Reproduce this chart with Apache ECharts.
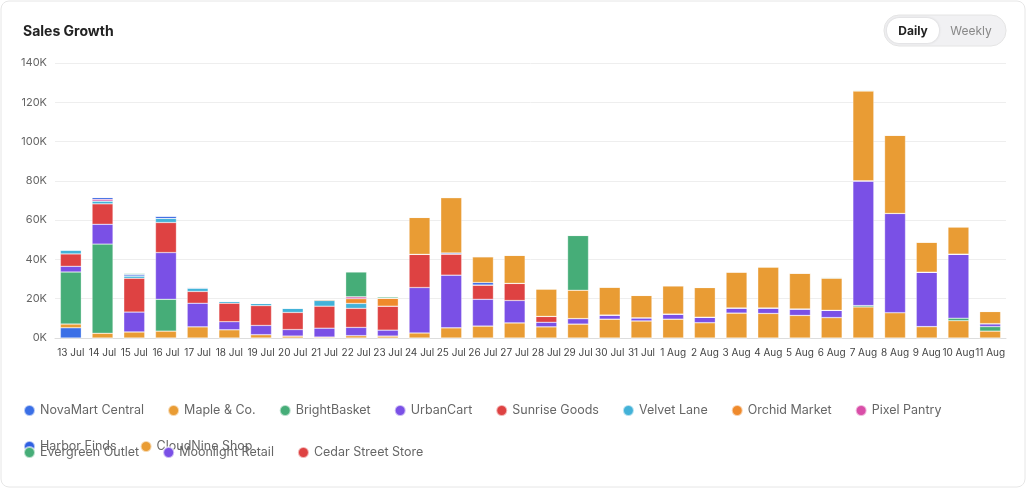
<!DOCTYPE html>
<html>
<head>
<meta charset="utf-8">
<script src="https://cdn.jsdelivr.net/npm/echarts@6/dist/echarts.min.js"></script>
<style>
  html, body { margin: 0; padding: 0; background: #fff; }
  #main { width: 1030px; height: 489px; }
</style>
</head>
<body>
<div id="main"></div>
<script>
// values in thousands
var days = ['13 Jul','14 Jul','15 Jul','16 Jul','17 Jul','18 Jul','19 Jul','20 Jul','21 Jul','22 Jul','23 Jul',
    '24 Jul','25 Jul','26 Jul','27 Jul','28 Jul','29 Jul','30 Jul','31 Jul',
    '1 Aug','2 Aug','3 Aug','4 Aug','5 Aug','6 Aug','7 Aug','8 Aug','9 Aug','10 Aug','11 Aug'];
var yTicks = [0, 20, 40, 60, 80, 100, 120, 140];

var novaMart   = [5.2,0,0,0,0,0,0,0,0,0,0, 0,0,0,0,0,0,0,0, 0,0,0,0,0,0,0,0,0,0,0];
var maple      = [1.9,2.4,3.1,3.5,5.7,4.2,1.7,1.0,0.5,1.2,1.0, 2.6,5.2,6.1,7.7,5.7,7.1,9.6,8.7, 9.6,7.8,12.7,12.5,11.5,10.4,15.8,12.9,5.8,8.8,3.5];
var bright     = [26.5,45.4,0,16.2,0,0,0,0,0,0,0, 0,0,0,0,0,0,0,0, 0,0,0,0,0,0,0.7,0,0,1.3,2.3];
var urban      = [2.9,10.1,10.1,23.8,12,4.1,4.7,3.3,4.5,4.2,3, 23.1,26.8,13.6,11.4,2.3,2.8,2.1,1.6, 2.6,2.8,2.6,2.8,3.3,3.7,63.5,50.5,27.7,32.6,1.5];
var sunrise    = [6.3,10.4,17.2,15.3,6,9.4,10.1,8.7,11.2,9.7,12.2, 16.9,10.8,7.3,8.7,3,0,0,0, 0,0,0,0,0,0,0,0,0,0,0];
var velvet     = [2.1,1.4,1.2,2.1,1.7,1.1,1.2,2.3,2.9,2.5,0, 0,0,0,0,0,0,0,0, 0,0,0,0,0,0,0,0,0,0,0];
var orchid     = [0,0,0,0,0,0,0,0,0.6,2.4,4.1, 0,0,0,0,0,0,0,0, 0,0,0,0,0,0,0,0,0,0,0];
var pixel      = [0,0.9,0,0,0.5,0,0,0,0,1.0,0, 0,0,0,0,0,0,0,0, 0,0,0,0,0,0,0,0,0,0,0];
var harbor     = [0,1.0,0.8,1.2,0,0,0,0,0,0,0, 0,0.5,1.2,0,0,0,0,0, 0,0,0,0,0,0,0,0,0,0,0];
var cloudNine  = [0,0,0,0,0,0,0,0,0,0,0, 18.8,28.2,13.2,14.3,14,14.4,14.2,11.4, 14.4,15.1,18.3,20.9,18.2,16.3,45.7,39.8,15.3,13.9,6.2];
var evergreen  = [0,0,0.6,0,0,0,0,0,0,12.7,0.7, 0,0,0,0,0,27.9,0,0, 0,0,0,0,0,0.4,0.4,0,0,0,0];
var moonlight  = [0,0,0,0,0,0,0,0,0,0,0, 0,0,0,0,0,0,0,0, 0,0,0,0,0,0,0,0,0,0,0];
var cedar      = [0,0,0,0,0,0,0,0,0,0,0, 0,0,0,0,0,0,0,0, 0,0,0,0,0,0,0,0,0,0,0];

var names = ['NovaMart Central','Maple & Co.','BrightBasket','UrbanCart','Sunrise Goods','Velvet Lane',
    'Orchid Market','Pixel Pantry','Harbor Finds','CloudNine Shop','Evergreen Outlet','Moonlight Retail','Cedar Street Store'];
var values = [novaMart, maple, bright, urban, sunrise, velvet, orchid, pixel, harbor, cloudNine, evergreen, moonlight, cedar];
var colors = ['#3a6fe6','#e99c34','#46ad78','#7a50e6','#de4242','#43b2d8','#ef8a2c','#d94ea8','#2f60e2','#e99c34','#46ad78','#7a50e6','#de4242'];

var series = names.map(function (n, i) {
    return {
        name: n, type: 'bar', stack: 'total', data: values[i],
        barCategoryGap: '34%',
        itemStyle: { color: colors[i], borderColor: 'rgba(255,255,255,0.6)', borderWidth: 0.5 }
    };
});

var legendBase = {
    left: 18, icon: 'circle', itemWidth: 11, itemHeight: 11, itemGap: 23,
    textStyle: { color: '#666', fontSize: 12.5, fontFamily: 'Inter' }
};

var myChart = echarts.init(document.getElementById('main'));
myChart.setOption({
    animation: false,
    textStyle: { fontFamily: 'Inter' },
    color: colors,
    title: { text: 'Sales Growth', left: 18, top: 20, textStyle: { fontSize: 14, fontWeight: 'bold', color: '#222' } },
    legend: [
        Object.assign({ top: 399, data: names.slice(0, 10) }, legendBase),
        Object.assign({ top: 441, data: names.slice(10) }, legendBase)
    ],
    grid: { left: 55, right: 24, top: 63, bottom: 151 },
    xAxis: {
        type: 'category', data: days,
        axisTick: { show: false },
        axisLine: { lineStyle: { color: '#ddd' } },
        axisLabel: { color: '#444', fontSize: 10, interval: 0, margin: 10 }
    },
    yAxis: {
        type: 'value', min: 0, max: yTicks[yTicks.length - 1], interval: 20,
        axisLabel: { color: '#666', fontSize: 11, formatter: function (v) { return v + 'K'; } },
        splitLine: { lineStyle: { color: '#eee' } }
    },
    graphic: [
        { type: 'rect', shape: { x: 1, y: 1, width: 1024, height: 486, r: 8 }, style: { fill: 'none', stroke: '#e6e6e6' } },
        { type: 'rect', shape: { x: 884, y: 15, width: 122, height: 31, r: 15 }, style: { fill: '#f1f1f3', stroke: '#e4e4e4' } },
        { type: 'rect', shape: { x: 887, y: 18, width: 52, height: 25, r: 12 }, style: { fill: '#fff', shadowBlur: 3, shadowColor: 'rgba(0,0,0,0.15)' } },
        { type: 'text', x: 913, y: 31, style: { text: 'Daily', fill: '#222', font: 'bold 12px Inter', align: 'center', verticalAlign: 'middle' } },
        { type: 'text', x: 971, y: 31, style: { text: 'Weekly', fill: '#888', font: '12px Inter', align: 'center', verticalAlign: 'middle' } }
    ],
    series: series
});
</script>
</body>
</html>
